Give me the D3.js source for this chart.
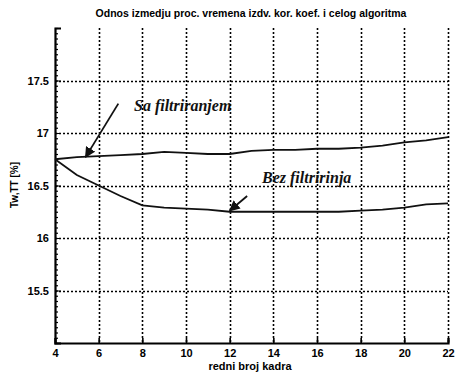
<!DOCTYPE html>
<html>
<head>
<meta charset="utf-8">
<script src="https://cdn.jsdelivr.net/npm/d3@7"></script>
<style>
  body { margin: 0; background: #fff; }
  svg { display: block; }
</style>
</head>
<body>
<svg id="chart" width="456" height="377"></svg>
<script>
var frames = [4, 5, 6, 7, 8, 9, 10, 11, 12, 13, 14, 15, 16, 17, 18, 19, 20, 21, 22];
var saFiltriranjem = [16.75, 16.77, 16.78, 16.79, 16.80, 16.82, 16.81, 16.80, 16.80, 16.83, 16.84, 16.84, 16.85, 16.85, 16.86, 16.88, 16.91, 16.93, 16.96];
var bezFiltriranja = [16.75, 16.60, 16.50, 16.40, 16.31, 16.29, 16.28, 16.27, 16.25, 16.25, 16.25, 16.25, 16.25, 16.25, 16.26, 16.27, 16.29, 16.32, 16.33];
var xTicks = [4, 6, 8, 10, 12, 14, 16, 18, 20, 22];
var yTicks = [15.5, 16, 16.5, 17, 17.5];
var yTickLabels = ['15.5', '16', '16.5', '17', '17.5'];

var svg = d3.select('#chart');
var mLeft = 55, mRight = 448, mTop = 28, mBottom = 343;

var x = d3.scaleLinear().domain([4, 22]).range([mLeft, mRight]);
var y = d3.scaleLinear().domain([15, 18]).range([mBottom, mTop]);

// dotted grid
svg.append('g')
    .selectAll('line')
    .data(xTicks.slice(1))
    .join('line')
    .attr('x1', d => Math.round(x(d)) + 0.5).attr('x2', d => Math.round(x(d)) + 0.5)
    .attr('y1', mTop).attr('y2', mBottom)
    .attr('stroke', '#000')
    .attr('stroke-width', 1.6)
    .attr('stroke-dasharray', '2,2');

svg.append('g')
    .selectAll('line')
    .data(yTicks)
    .join('line')
    .attr('x1', mLeft).attr('x2', mRight)
    .attr('y1', d => Math.round(y(d)) + 0.5).attr('y2', d => Math.round(y(d)) + 0.5)
    .attr('stroke', '#000')
    .attr('stroke-width', 1.6)
    .attr('stroke-dasharray', '2,2');

// axes
var xAxis = svg.append('g')
    .attr('transform', `translate(0,${mBottom})`)
    .call(d3.axisBottom(x).tickValues(xTicks).tickSize(-5).tickPadding(6).tickFormat(d3.format('d')));
xAxis.select('.domain').attr('stroke-width', 2.2);
xAxis.selectAll('.tick line').attr('stroke-width', 1.6);

var minor = d3.range(15, 18.001, 0.05);
svg.append('g')
    .attr('transform', `translate(${mLeft},0)`)
    .call(d3.axisLeft(y).tickValues(minor).tickSize(-3).tickFormat(''))
    .call(g => g.selectAll('.tick line').attr('stroke-width', 1.2))
    .select('.domain').remove();

var yAxis = svg.append('g')
    .attr('transform', `translate(${mLeft},0)`)
    .call(d3.axisLeft(y).tickValues(yTicks).tickSize(-6).tickPadding(6)
        .tickFormat((d, i) => yTickLabels[i]));
yAxis.select('.domain').attr('stroke-width', 2.2);

svg.selectAll('.tick text')
    .attr('font-family', 'Liberation Sans, Arial, sans-serif')
    .attr('font-weight', 'bold')
    .attr('font-size', 11)
    .attr('fill', '#000');

// lines
var line = d3.line().x((d, i) => x(frames[i])).y(d => y(d));
[saFiltriranjem, bezFiltriranja].forEach(function (s) {
    svg.append('path')
        .datum(s)
        .attr('fill', 'none')
        .attr('stroke', '#111')
        .attr('stroke-width', 1.8)
        .attr('d', line);
});

// annotations with arrows
svg.append('defs').append('marker')
    .attr('id', 'head')
    .attr('viewBox', '0 0 10 10')
    .attr('refX', 9).attr('refY', 5)
    .attr('markerWidth', 6).attr('markerHeight', 6)
    .attr('orient', 'auto')
    .append('path')
    .attr('d', 'M0,0L10,5L0,10z')
    .attr('fill', '#111');

var notes = [
    {text: 'Sa filtriranjem', tx: 134, ty: 111, from: [6.9, 17.28], to: [5.4, 16.77]},
    {text: 'Bez filtririnja', tx: 262, ty: 183, from: [12.8, 16.40], to: [12.0, 16.26]}
];
notes.forEach(function (n) {
    svg.append('text')
        .attr('x', n.tx).attr('y', n.ty)
        .attr('font-family', 'Liberation Serif, Times New Roman, serif')
        .attr('font-style', 'italic')
        .attr('font-weight', 'bold')
        .attr('font-size', 16)
        .attr('fill', '#111')
        .text(n.text);
    svg.append('line')
        .attr('x1', x(n.from[0])).attr('y1', y(n.from[1]))
        .attr('x2', x(n.to[0])).attr('y2', y(n.to[1]))
        .attr('stroke', '#111')
        .attr('stroke-width', 1.8)
        .attr('marker-end', 'url(#head)');
});

// titles
svg.append('text')
    .attr('x', 251).attr('y', 17)
    .attr('text-anchor', 'middle')
    .attr('font-family', 'Liberation Sans, Arial, sans-serif')
    .attr('font-weight', 'bold')
    .attr('font-size', 10.5)
    .attr('fill', '#000')
    .text('Odnos izmedju proc. vremena izdv. kor. koef. i celog algoritma');

svg.append('text')
    .attr('x', 250).attr('y', 370)
    .attr('text-anchor', 'middle')
    .attr('font-family', 'Liberation Sans, Arial, sans-serif')
    .attr('font-weight', 'bold')
    .attr('font-size', 11)
    .attr('fill', '#000')
    .text('redni broj kadra');

svg.append('text')
    .attr('transform', 'translate(18,185) rotate(-90)')
    .attr('text-anchor', 'middle')
    .attr('font-family', 'Liberation Sans, Arial, sans-serif')
    .attr('font-weight', 'bold')
    .attr('font-size', 10)
    .attr('fill', '#000')
    .text('Tw,TT [%]');
</script>
</body>
</html>
